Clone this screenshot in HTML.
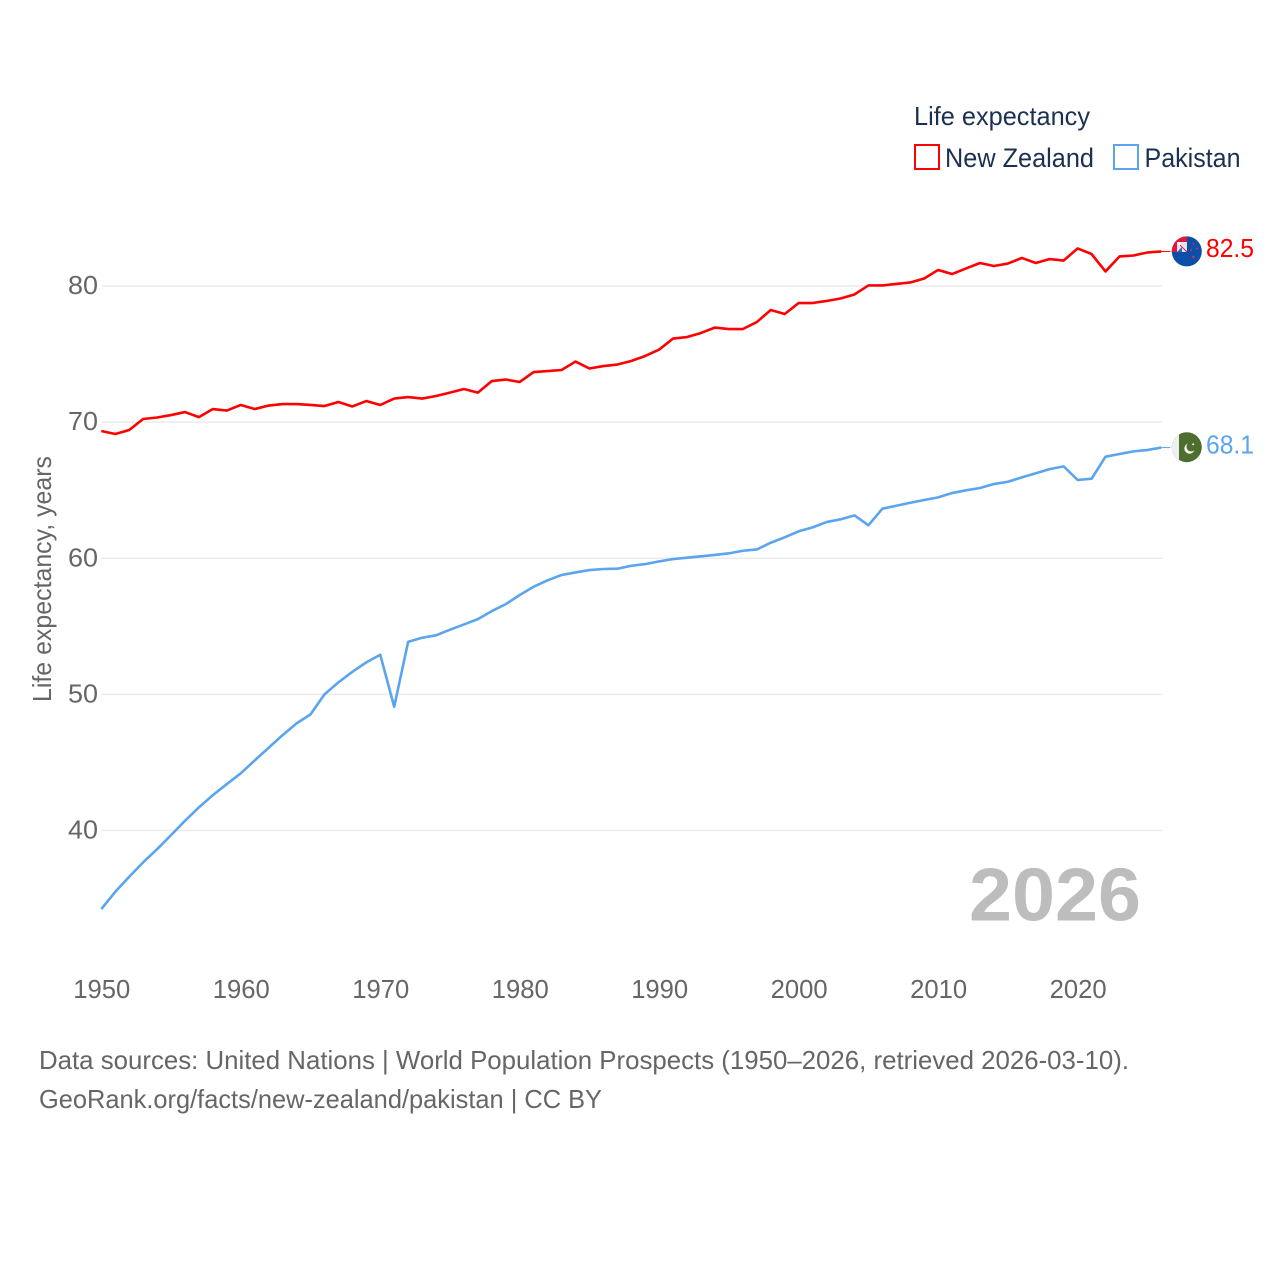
<!DOCTYPE html>
<html lang="en">
<head>
<meta charset="utf-8">
<title>Life expectancy: New Zealand and Pakistan</title>
<style>
html,body{margin:0;padding:0;background:#fff;}
svg{display:block;}
text{font-family:"Liberation Sans",sans-serif;}
</style>
</head>
<body>
<svg id="chart" xmlns="http://www.w3.org/2000/svg" width="1280" height="1280" viewBox="0 0 1280 1280">
  <defs>
    <clipPath id="nz-clip"><circle cx="1186.8" cy="251.4" r="15"/></clipPath>
    <clipPath id="nz-jack-clip"><rect x="1171" y="236" width="16" height="16"/></clipPath>
    <clipPath id="pk-clip"><circle cx="1186.8" cy="447.2" r="15"/></clipPath>
  </defs>
  <rect x="0" y="0" width="1280" height="1280" fill="#ffffff"/>
  <g id="grid"></g>
  <g id="y-ticks"></g>
  <g id="x-ticks"></g>
  <text transform="translate(51,702) rotate(-90)" font-size="26" fill="#666666" textLength="246" lengthAdjust="spacingAndGlyphs">Life expectancy, years</text>

  <g>
    <text x="914" y="125" font-size="26" fill="#1a3152" textLength="176" lengthAdjust="spacingAndGlyphs">Life expectancy</text>
    <rect x="915" y="145" width="24" height="24" fill="none" stroke="#ff0000" stroke-width="2"/>
    <text x="945" y="167" font-size="27" fill="#1a3152" textLength="149" lengthAdjust="spacingAndGlyphs">New Zealand</text>
    <rect x="1114" y="145" width="24" height="24" fill="none" stroke="#5ba4ee" stroke-width="2"/>
    <text x="1144.5" y="167" font-size="27" fill="#1a3152" textLength="96" lengthAdjust="spacingAndGlyphs">Pakistan</text>
  </g>

  <g id="series"></g>

  <g>
    <g clip-path="url(#nz-clip)">
      <rect x="1170" y="234" width="34" height="34" fill="#0b4fa8"/>
      <g clip-path="url(#nz-jack-clip)">
        <rect x="1171" y="236" width="16" height="16" fill="#e2173f"/>
        <rect x="1177" y="242" width="10" height="10" fill="#dfe3ef"/>
        <path d="M1178 243 L1186 251" stroke="#ffffff" stroke-width="2.4" fill="none"/>
        <path d="M1180 245 L1187 252" stroke="#d8204a" stroke-width="1.2" fill="none"/>
        <path d="M1177 252 L1182 247 L1182 252 Z" fill="#3c66b4"/>
      </g>
      <circle cx="1193.5" cy="244" r="1" fill="#c4305e"/>
      <circle cx="1197" cy="248.5" r="1" fill="#c4305e"/>
      <circle cx="1191" cy="250" r="1.1" fill="#c4305e"/>
      <circle cx="1193.5" cy="257" r="1.4" fill="#c4305e"/>
    </g>
  </g>
  <g>
    <g clip-path="url(#pk-clip)">
      <rect x="1170" y="430" width="34" height="34" fill="#4d6e2e"/>
      <rect x="1170" y="430" width="9" height="34" fill="#efefef"/>
      <circle cx="1189.5" cy="448.5" r="5.2" fill="#f4f4f0"/>
      <circle cx="1191.2" cy="446.8" r="4.7" fill="#4d6e2e"/>
      <circle cx="1193.2" cy="444.3" r="1" fill="#f4f4f0"/>
    </g>
  </g>

  <g id="end-labels"></g>

  <text x="969" y="920.5" font-size="75" font-weight="700" fill="#bdbdbd" textLength="172" lengthAdjust="spacingAndGlyphs">2026</text>

  <text x="39" y="1069" font-size="26" fill="#666666" textLength="1090" lengthAdjust="spacingAndGlyphs">Data sources: United Nations | World Population Prospects (1950–2026, retrieved 2026-03-10).</text>
  <text x="39" y="1108" font-size="26" fill="#666666" textLength="563" lengthAdjust="spacingAndGlyphs">GeoRank.org/facts/new-zealand/pakistan | CC BY</text>
</svg>
<script>
const years = [
  1950,1951,1952,1953,1954,1955,1956,1957,1958,1959,
  1960,1961,1962,1963,1964,1965,1966,1967,1968,1969,
  1970,1971,1972,1973,1974,1975,1976,1977,1978,1979,
  1980,1981,1982,1983,1984,1985,1986,1987,1988,1989,
  1990,1991,1992,1993,1994,1995,1996,1997,1998,1999,
  2000,2001,2002,2003,2004,2005,2006,2007,2008,2009,
  2010,2011,2012,2013,2014,2015,2016,2017,2018,2019,
  2020,2021,2022,2023,2024,2025,2026
];
const newZealand = [
  69.35,69.13,69.42,70.23,70.34,70.52,70.74,70.37,70.96,70.85,
  71.26,70.96,71.22,71.33,71.33,71.26,71.18,71.48,71.15,71.55,
  71.26,71.73,71.84,71.73,71.92,72.17,72.43,72.17,73.02,73.13,
  72.95,73.68,73.75,73.83,74.45,73.94,74.12,74.23,74.49,74.86,
  75.33,76.14,76.25,76.55,76.95,76.84,76.84,77.35,78.24,77.94,
  78.75,78.75,78.90,79.08,79.38,80.04,80.04,80.15,80.26,80.55,
  81.18,80.88,81.29,81.69,81.47,81.65,82.06,81.69,81.98,81.87,
  82.76,82.35,81.07,82.17,82.24,82.46,82.54
];
const pakistan = [
  34.23,35.50,36.60,37.66,38.63,39.66,40.71,41.70,42.60,43.41,
  44.20,45.15,46.08,47.01,47.87,48.53,50.00,50.88,51.66,52.35,
  52.91,49.09,53.86,54.16,54.34,54.75,55.14,55.53,56.12,56.63,
  57.30,57.91,58.38,58.77,58.96,59.13,59.21,59.23,59.45,59.57,
  59.77,59.94,60.04,60.14,60.24,60.36,60.55,60.65,61.14,61.54,
  61.98,62.27,62.66,62.86,63.15,62.42,63.64,63.86,64.08,64.28,
  64.47,64.79,64.99,65.16,65.45,65.62,65.94,66.24,66.55,66.75,
  65.75,65.84,67.46,67.66,67.85,67.95,68.13
];
const yTickValues = [40,50,60,70,80];
const xTickValues = [1950,1960,1970,1980,1990,2000,2010,2020];

const NS = 'http://www.w3.org/2000/svg';
function xScale(year){ return 101.3 + (year - 1950) * (1161.3 - 101.3) / (2026 - 1950); }
function yScale(value){ return 286 + (80 - value) * (830.5 - 286) / (80 - 40); }
function make(tag, attrs, parent){
  const el = document.createElementNS(NS, tag);
  for (const k in attrs) el.setAttribute(k, attrs[k]);
  parent.appendChild(el);
  return el;
}

const gridGroup = document.getElementById('grid');
const yTickGroup = document.getElementById('y-ticks');
yTickValues.forEach(function(v){
  const line = make('line', {x1:101.5, x2:1162, y1:yScale(v), y2:yScale(v), stroke:'#ebebeb', 'stroke-width':1.6}, gridGroup);
  
  
  const label = make('text', {x:68, y:yScale(v) + 8, 'font-size':26, fill:'#666666', textLength:30, lengthAdjust:'spacingAndGlyphs'}, yTickGroup);
  
  
  label.textContent = String(v);
});

const xTickGroup = document.getElementById('x-ticks');
xTickValues.forEach(function(y){
  const label = make('text', {x:xScale(y) - 28, y:998, 'font-size':26, fill:'#666666', textLength:57, lengthAdjust:'spacingAndGlyphs'}, xTickGroup);
  
  
  label.textContent = String(y);
});

const seriesGroup = document.getElementById('series');
const endGroup = document.getElementById('end-labels');
function drawSeries(values, color, slug){
  const pts = values.map(function(v, i){ return xScale(years[i]).toFixed(2) + ',' + yScale(v).toFixed(2); }).join(' ');
  const line = make('polyline', {points:pts, fill:'none', stroke:color, 'stroke-width':2.6, 'stroke-linejoin':'round'}, seriesGroup);
  
  
  const last = values[values.length - 1];
  const yLast = yScale(last);
  const xLast = xScale(years[years.length - 1]);
  const conn = make('line', {x1:xLast, x2:xLast + 9, y1:yLast, y2:yLast, stroke:color, 'stroke-width':1}, seriesGroup);
  
  
  const label = make('text', {x:1206, y:yLast + 5.8, 'font-size':26, fill:color, textLength:48, lengthAdjust:'spacingAndGlyphs'}, endGroup);
  
  
  label.textContent = last.toFixed(1);
}
drawSeries(newZealand, '#ff0000', 'new-zealand');
drawSeries(pakistan, '#5ba4ee', 'pakistan');
</script>
</body>
</html>
